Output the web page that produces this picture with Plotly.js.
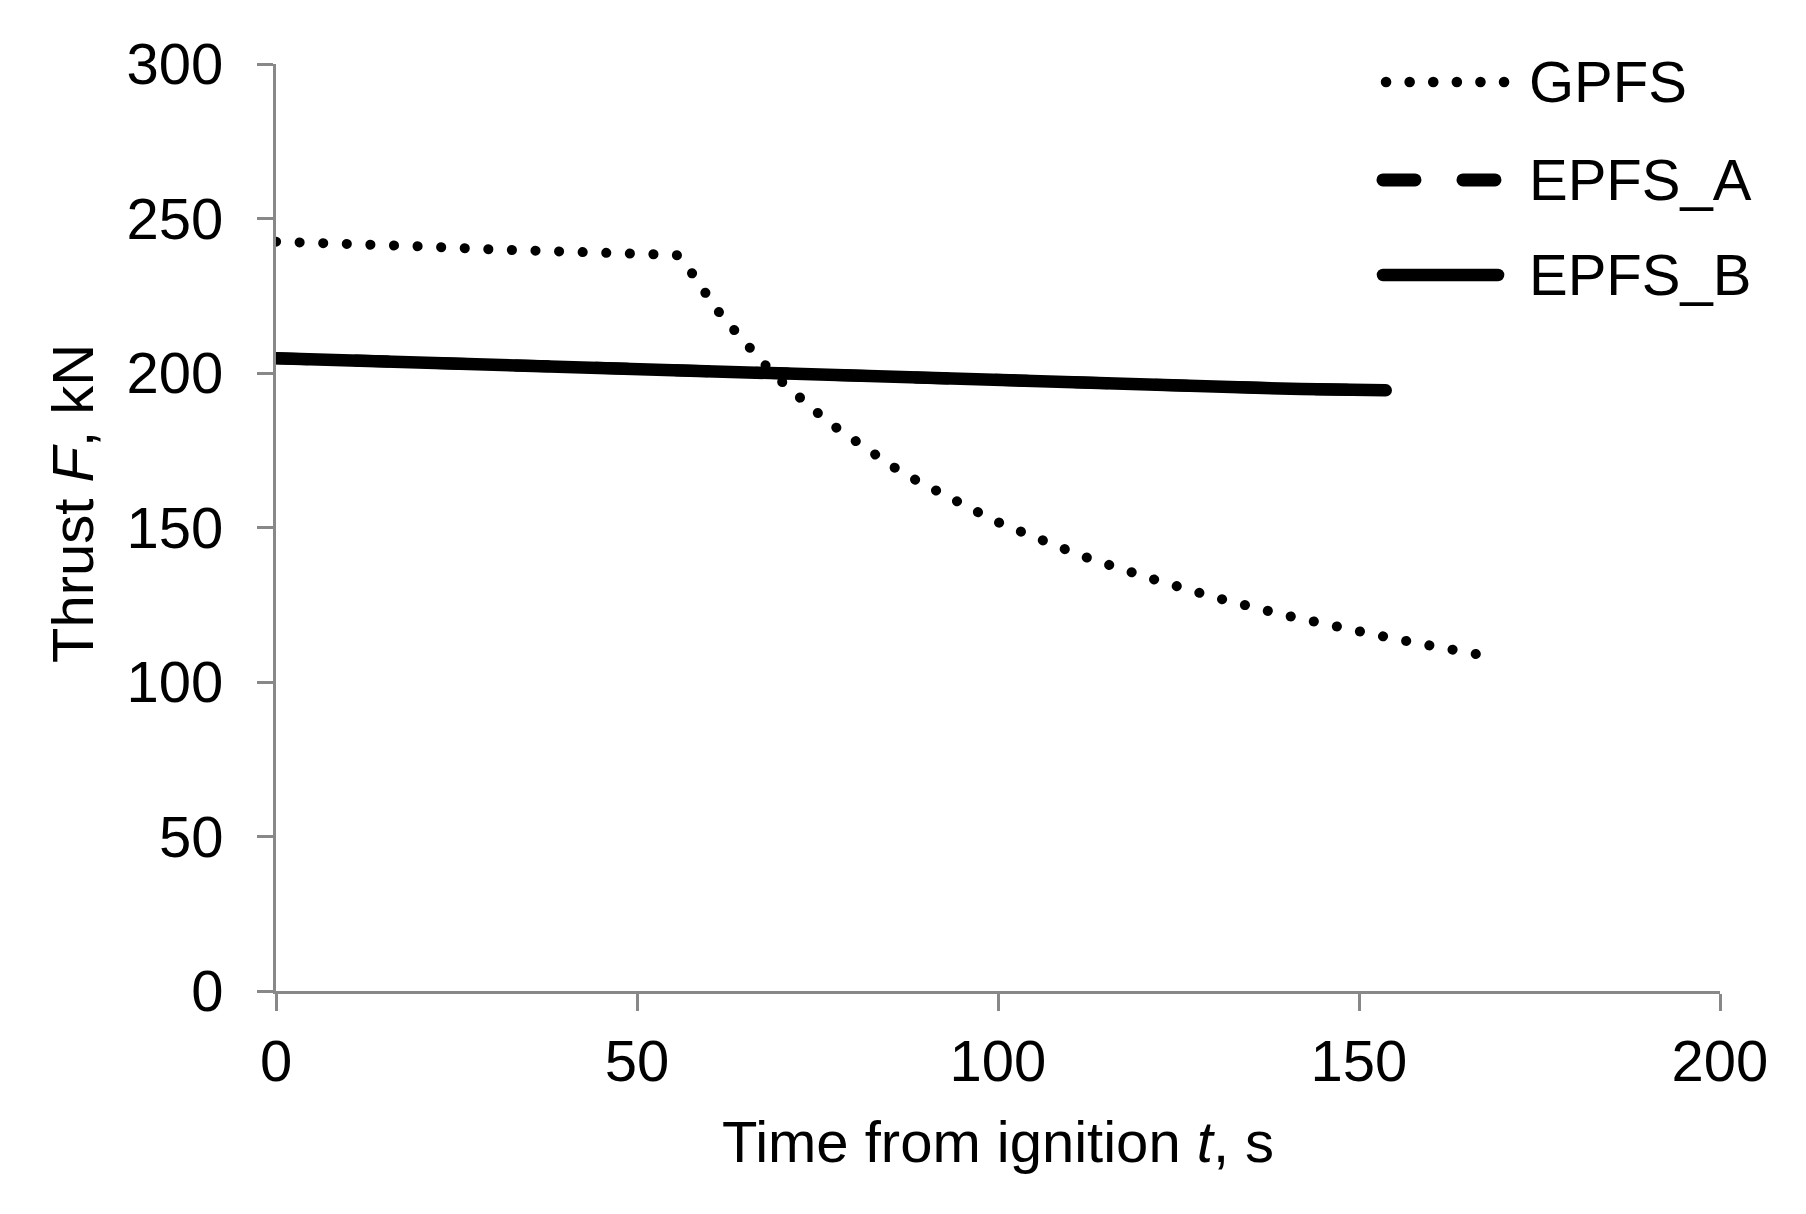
<!DOCTYPE html>
<html>
<head>
<meta charset="utf-8">
<script src="https://cdn.plot.ly/plotly-3.0.1.min.js"></script>
<style>
  html, body { margin: 0; padding: 0; background: #fff; }
  #chart { width: 1806px; height: 1214px; }
  /* round caps so the dotted pattern draws as round dots */
  .js-line, .shapelayer path { stroke-linecap: round !important; }
</style>
</head>
<body>
<div id="chart"></div>
<script>
const seriesNames = ["GPFS", "EPFS_A", "EPFS_B"];

// GPFS (dotted)
const gpfsTime = [0, 10, 20, 30, 40, 50, 55.5, 57.5, 59.3, 61.1, 63.2, 65.4, 67.5, 69.8,
	72.3, 74.7, 77.3, 79.9, 82.5, 85.3, 88.1, 90.9, 93.8, 96.7, 99.6, 102.6, 105.7,
	108.6, 111.6, 120.9, 130.3, 139.6, 146, 152.4, 158.7, 165.1, 168.4];
const gpfsThrust = [242.5, 242, 241, 240, 239.3, 238.6, 238.2, 232.7, 226.5, 220.4, 214.6,
	208.4, 203.2, 197.7, 192.2, 187.7, 182.8, 178.3, 174.1, 169.9, 166, 162.4, 158.9,
	155.3, 152.1, 149.2, 146.3, 143.7, 140.8, 133.7, 127.2, 121.7, 118.1, 115.2, 112.3,
	109.4, 108.1];

// EPFS_A lies under EPFS_B in the picture
const epfsATime = [0, 17, 45, 70, 100, 114, 142, 153.7];
const epfsAThrust = [204.8, 203.6, 201, 199.2, 197.1, 196.4, 194.8, 194.4];

const epfsBTime = [0, 17, 45, 70, 100, 114, 142, 153.7];
const epfsBThrust = [204.8, 203.6, 201, 199.2, 197.1, 196.4, 194.8, 194.4];

const xTicks = [0, 50, 100, 150, 200];
const yTicks = [0, 50, 100, 150, 200, 250, 300];

const FONT = "Liberation Sans, Arial, sans-serif";
const AXIS_GREY = "#888888";

const dotDash = "0.1px,23.5px";
const longDash = "32px,48px";

const traces = [
	{
		x: epfsATime, y: epfsAThrust, name: seriesNames[1],
		type: "scatter", mode: "lines",
		line: { color: "#000", width: 12, dash: longDash },
	},
	{
		x: epfsBTime, y: epfsBThrust, name: seriesNames[2],
		type: "scatter", mode: "lines",
		line: { color: "#000", width: 12.5, dash: "solid" },
	},
	{
		x: gpfsTime, y: gpfsThrust, name: seriesNames[0],
		type: "scatter", mode: "lines",
		line: { color: "#000", width: 10, dash: dotDash },
	},
];

// hand-drawn legend: long sample lines like the original
const legendRows = [
	{ name: seriesNames[0], y: 0.9806, dash: dotDash, width: 10.5, x0: 0.7687, x1: 0.8514 },
	{ name: seriesNames[1], y: 0.8749, dash: longDash, width: 13, x0: 0.7666, x1: 0.8469 },
	{ name: seriesNames[2], y: 0.7724, dash: "solid", width: 12.5, x0: 0.7666, x1: 0.8463 },
];

const shapes = legendRows.map(r => ({
	type: "line", xref: "paper", yref: "paper",
	x0: r.x0, x1: r.x1, y0: r.y, y1: r.y,
	line: { color: "#000", width: r.width, dash: r.dash },
}));

const annotations = legendRows.map(r => ({
	xref: "paper", yref: "paper", x: 0.8665, y: r.y,
	xanchor: "left", yanchor: "middle", showarrow: false,
	text: r.name, font: { family: FONT, size: 58, color: "#000" },
}));

// y axis title, sits a little above the middle of the axis as in the original
annotations.push({
	xref: "paper", yref: "paper", x: -0.1413, y: 0.5264,
	xanchor: "center", yanchor: "middle", showarrow: false,
	textangle: -90,
	text: "Thrust <i>F</i>, kN",
	font: { family: FONT, size: 58, color: "#000" },
});

const layout = {
	width: 1806,
	height: 1214,
	margin: { l: 276, r: 86, t: 64, b: 223 },
	paper_bgcolor: "#fff",
	plot_bgcolor: "#fff",
	showlegend: false,
	font: { family: FONT, size: 58, color: "#000" },
	xaxis: {
		range: [0, 200],
		tickvals: xTicks,
		showgrid: false,
		zeroline: false,
		showline: true,
		linecolor: AXIS_GREY,
		linewidth: 3,
		ticks: "outside",
		ticklen: 17,
		tickwidth: 3,
		tickcolor: AXIS_GREY,
		ticklabelstandoff: 0,
		tickfont: { family: FONT, size: 58, color: "#000" },
		title: {
			text: "Time from ignition <i>t</i>, s",
			font: { family: FONT, size: 58, color: "#000" },
			standoff: 30,
		},
		automargin: false,
	},
	yaxis: {
		range: [0, 300],
		tickvals: yTicks,
		showgrid: false,
		zeroline: false,
		showline: true,
		linecolor: AXIS_GREY,
		linewidth: 3,
		ticks: "outside",
		ticklen: 16,
		tickwidth: 3,
		tickcolor: AXIS_GREY,
		ticklabelstandoff: 22,
		tickfont: { family: FONT, size: 58, color: "#000" },
		automargin: false,
	},
	shapes: shapes,
	annotations: annotations,
};

Plotly.newPlot("chart", traces, layout, { displayModeBar: false, staticPlot: true });
</script>
</body>
</html>
